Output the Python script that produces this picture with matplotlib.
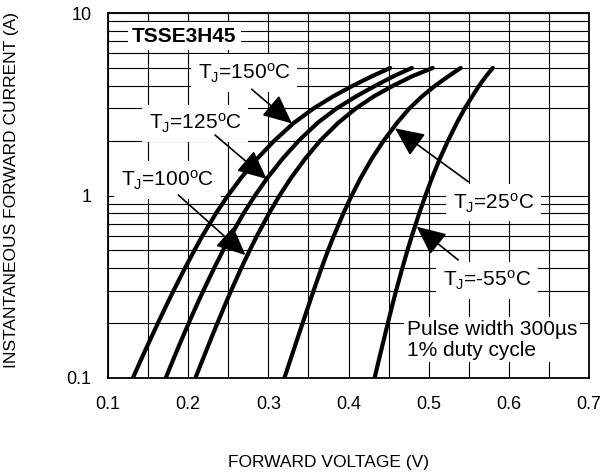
import numpy as np
import matplotlib
matplotlib.use('Agg')
import matplotlib.pyplot as plt
from matplotlib.ticker import MultipleLocator, LogLocator, NullFormatter

plt.rcParams['font.family'] = ['Liberation Sans', 'DejaVu Sans']
plt.rcParams['mathtext.fontset'] = 'custom'
plt.rcParams['mathtext.rm'] = 'Liberation Sans'
plt.rcParams['mathtext.it'] = 'Liberation Sans:italic'
plt.rcParams['mathtext.bf'] = 'Liberation Sans:bold'

# forward current (A) levels where the curves were read, and forward voltage (V) per junction temp
i_pts = [0.1, 0.13, 0.16, 0.2, 0.25, 0.3, 0.4, 0.5, 0.6, 0.8, 1, 1.25, 1.6, 2, 2.5, 3, 3.5, 4, 4.5, 5]
v_150 = [0.131, 0.1426, 0.152, 0.1623, 0.1728, 0.1816, 0.196, 0.2077, 0.2177, 0.2348,
         0.2496, 0.2661, 0.2866, 0.3076, 0.3319, 0.3564, 0.3812, 0.4056, 0.4291, 0.452]
v_125 = [0.172, 0.1826, 0.1912, 0.2007, 0.2105, 0.2188, 0.2324, 0.2435, 0.253, 0.2693,
         0.2834, 0.2989, 0.3182, 0.3381, 0.3614, 0.3851, 0.4099, 0.4337, 0.4561, 0.479]
v_100 = [0.209, 0.2193, 0.2275, 0.2365, 0.2457, 0.2534, 0.2662, 0.2767, 0.2857, 0.301,
         0.314, 0.3284, 0.3464, 0.3648, 0.3871, 0.4092, 0.432, 0.4558, 0.4793, 0.505]
v_25 = [0.320, 0.3286, 0.3354, 0.3428, 0.3502, 0.3563, 0.3663, 0.3745, 0.3816, 0.3937,
        0.404, 0.4153, 0.4294, 0.444, 0.4605, 0.4759, 0.492, 0.5082, 0.5245, 0.540]
v_m55 = [0.4325, 0.4387, 0.4437, 0.4491, 0.4546, 0.4593, 0.4671, 0.4735, 0.479, 0.4883,
         0.496, 0.5042, 0.5142, 0.5242, 0.5352, 0.545, 0.5545, 0.563, 0.5715, 0.580]

volt_ticks = [0.1, 0.2, 0.3, 0.4, 0.5, 0.6, 0.7]
volt_labels = ['0.1', '0.2', '0.3', '0.4', '0.5', '0.6', '0.7']
amp_ticks = [0.1, 1, 10]
amp_labels = ['0.1', '1', '10']

fig = plt.figure(figsize=(6.09, 4.75), dpi=100)
ax = fig.add_axes([108/609, 1-378/475, 481/609, 365/475])
ax.set_yscale('log')
ax.set_xlim(0.1, 0.7)
ax.set_ylim(0.1, 10)
ax.set_xticks(volt_ticks)
ax.set_xticklabels(volt_labels)
ax.xaxis.set_minor_locator(MultipleLocator(0.05))
ax.set_yticks(amp_ticks)
ax.set_yticklabels(amp_labels)
ax.yaxis.set_minor_locator(LogLocator(base=10, subs=np.arange(2, 10)))
ax.yaxis.set_minor_formatter(NullFormatter())
ax.grid(True, which='both', color='k', lw=0.8)
ax.tick_params(which='both', length=0, labelsize=13)
ax.tick_params(axis='x', pad=13)
ax.tick_params(axis='y', pad=12)
for s in ax.spines.values():
    s.set_linewidth(1.3)

for v in [v_150, v_125, v_100, v_25, v_m55]:
    ax.plot(v, i_pts, color='k', lw=3, solid_capstyle='round', solid_joinstyle='round', zorder=4)

box = dict(fc='white', ec='none', pad=5)
ax.text(0.1954, 7.48, 'TSSE3H45', fontsize=15, fontweight='bold', ha='center', va='center',
        bbox=dict(fc='white', ec='none', pad=3), zorder=3)
ax.text(0.2696, 4.69, 'T$_\\mathrm{J}$=150$^\\mathrm{o}$C', fontsize=15, ha='center', va='center', bbox=box, zorder=3)
ax.text(0.2085, 2.47, 'T$_\\mathrm{J}$=125$^\\mathrm{o}$C', fontsize=15, ha='center', va='center', bbox=box, zorder=3)
ax.text(0.174, 1.216, 'T$_\\mathrm{J}$=100$^\\mathrm{o}$C', fontsize=15, ha='center', va='center', bbox=box, zorder=3)
ax.text(0.581, 0.91, 'T$_\\mathrm{J}$=25$^\\mathrm{o}$C', fontsize=15, ha='center', va='center', bbox=box, zorder=3)
ax.text(0.573, 0.344, 'T$_\\mathrm{J}$=-55$^\\mathrm{o}$C', fontsize=15, ha='center', va='center', bbox=box, zorder=3)
ax.text(0.4728, 0.162, 'Pulse width 300µs\n1% duty cycle', fontsize=15, ha='left', va='center',
        linespacing=1.1, bbox=dict(fc='white', ec='none', pad=2), zorder=3)

arrows = [((0.3295, 2.48), (0.2792, 3.82)),
          ((0.298, 1.231), (0.2335, 2.145)),
          ((0.2715, 0.472), (0.1877, 1.006)),
          ((0.458, 2.334), (0.5494, 1.19)),
          ((0.485, 0.675), (0.537, 0.443))]
for tip, tail in arrows:
    ax.annotate('', xy=tip, xytext=tail,
                arrowprops=dict(arrowstyle='-|>,head_length=1.2,head_width=0.55', mutation_scale=15,
                                lw=1.2, color='k', shrinkA=0, shrinkB=0), zorder=5)

fig.text(328/609, 1-463/475, 'FORWARD VOLTAGE (V)', ha='center', va='center', fontsize=12.5)
fig.text(12/609, 1-190/475, 'INSTANTANEOUS FORWARD CURRENT (A)', ha='center', va='center',
         rotation=90, fontsize=12.5)

fig.savefig('out.png', dpi=100)
